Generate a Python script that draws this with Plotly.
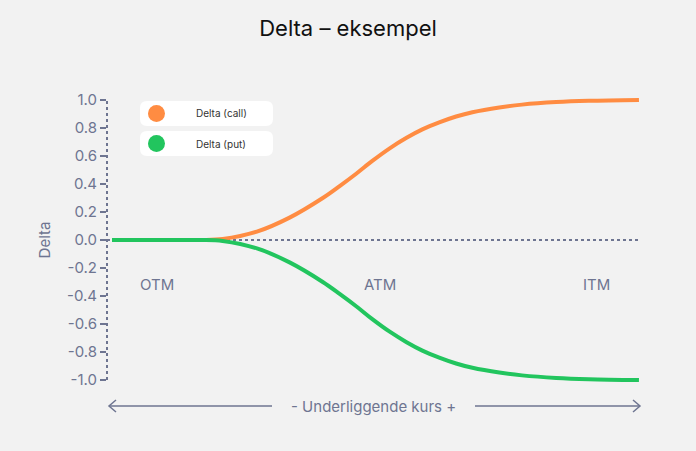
import plotly.graph_objects as go

# --- data ---
underlying = [0, 8.0, 16.7, 21.0, 27.5, 33.7, 40.0, 43.2, 46.4, 49.4, 52.7, 55.9, 58.9, 62.1,
              65.3, 68.4, 73.5, 77.8, 84.3, 90.5, 100]
delta_call = [0, 0, 0.0, 0.007, 0.06, 0.16, 0.30, 0.385, 0.475, 0.565, 0.655, 0.73, 0.79, 0.84,
              0.882, 0.913, 0.947, 0.967, 0.985, 0.994, 1.0]
delta_put = [-v for v in delta_call]
y_ticks = [1.0, 0.8, 0.6, 0.4, 0.2, 0.0, -0.2, -0.4, -0.6, -0.8, -1.0]
y_tick_text = ["1.0", "0.8", "0.6", "0.4", "0.2", "0.0", "-0.2", "-0.4", "-0.6", "-0.8", "-1.0"]
zones = ["OTM", "ATM", "ITM"]
zone_x = [8.5, 50.8, 91.9]
series_names = ["Delta (call)", "Delta (put)"]

ORANGE = "#ff8c42"
GREEN = "#22c55e"
SLATE = "#6e7591"
BG = "#f2f2f2"

W, H = 696, 451
L, R, T, B = 107, 56, 95, 66
PW, PH = W - L - R, H - T - B


def px(x):
    return (x - L) / PW


def py(y):
    return (H - B - y) / PH


fig = go.Figure()
fig.add_trace(go.Scatter(x=underlying, y=delta_call, mode="lines", name=series_names[0],
                         line=dict(color=ORANGE, width=4, shape="spline", smoothing=1.0)))
fig.add_trace(go.Scatter(x=underlying, y=delta_put, mode="lines", name=series_names[1],
                         line=dict(color=GREEN, width=4, shape="spline", smoothing=1.0)))

shapes = []
# dotted y axis
shapes.append(dict(type="line", xref="paper", yref="y", x0=0, x1=0, y0=-1.0, y1=1.0,
                   line=dict(color=SLATE, width=2, dash="3px,3px")))
# dashed zero line
shapes.append(dict(type="line", xref="paper", yref="y", x0=0, x1=px(640), y0=0, y1=0,
                   line=dict(color=SLATE, width=2, dash="3px,3px"), layer="below"))


def rounded_box(x0, y0, x1, y1, r):
    return (f"M {px(x0 + r)},{py(y0)} L {px(x1 - r)},{py(y0)} "
            f"Q {px(x1)},{py(y0)} {px(x1)},{py(y0 + r)} L {px(x1)},{py(y1 - r)} "
            f"Q {px(x1)},{py(y1)} {px(x1 - r)},{py(y1)} L {px(x0 + r)},{py(y1)} "
            f"Q {px(x0)},{py(y1)} {px(x0)},{py(y1 - r)} L {px(x0)},{py(y0 + r)} "
            f"Q {px(x0)},{py(y0)} {px(x0 + r)},{py(y0)} Z")


annotations = []
for i, (name, col) in enumerate(zip(series_names, [ORANGE, GREEN])):
    y0 = 101 + i * 30
    y1 = y0 + 25
    shapes.append(dict(type="path", xref="paper", yref="paper", path=rounded_box(140, y0, 273, y1, 7),
                       fillcolor="white", line=dict(width=0), layer="above"))
    cy = (y0 + y1) / 2
    shapes.append(dict(type="circle", xref="paper", yref="paper",
                       x0=px(148), x1=px(165), y0=py(cy + 8.5), y1=py(cy - 8.5),
                       fillcolor=col, line=dict(width=0), layer="above"))
    annotations.append(dict(text=name, xref="paper", yref="paper", x=px(221), y=py(cy),
                            showarrow=False, xanchor="center", yanchor="middle",
                            font=dict(size=10, color="#333333")))

# zone labels
for z, zx in zip(zones, zone_x):
    annotations.append(dict(text=z, x=zx, y=-0.32, xref="x", yref="y", showarrow=False,
                            font=dict(size=15, color=SLATE)))

# bottom arrow
ay = 406
shapes.append(dict(type="line", xref="paper", yref="paper", x0=px(109), x1=px(272), y0=py(ay), y1=py(ay),
                   line=dict(color=SLATE, width=1.5)))
shapes.append(dict(type="line", xref="paper", yref="paper", x0=px(475), x1=px(640), y0=py(ay), y1=py(ay),
                   line=dict(color=SLATE, width=1.5)))
shapes.append(dict(type="path", xref="paper", yref="paper",
                   path=f"M {px(116)},{py(ay - 6)} L {px(109)},{py(ay)} L {px(116)},{py(ay + 6)}",
                   line=dict(color=SLATE, width=1.5)))
shapes.append(dict(type="path", xref="paper", yref="paper",
                   path=f"M {px(633)},{py(ay - 6)} L {px(640)},{py(ay)} L {px(633)},{py(ay + 6)}",
                   line=dict(color=SLATE, width=1.5)))
annotations.append(dict(text="- Underliggende kurs +", xref="paper", yref="paper", x=px(373), y=py(ay),
                        showarrow=False, xanchor="center", yanchor="middle",
                        font=dict(size=15, color=SLATE)))

fig.update_layout(
    width=W, height=H,
    margin=dict(l=L, r=R, t=T, b=B),
    paper_bgcolor=BG, plot_bgcolor=BG,
    font=dict(family="Inter, Roboto, sans-serif", color=SLATE),
    title=dict(text="Delta – eksempel", x=0.5, xanchor="center", y=1 - 28 / H, yanchor="middle",
               font=dict(size=22, color="#111111")),
    showlegend=False,
    shapes=shapes,
    annotations=annotations,
)
fig.update_xaxes(range=[-0.95, 100.2], visible=False)
fig.update_yaxes(range=[-1.0357, 1.0357], tickvals=y_ticks, ticktext=y_tick_text,
                 showgrid=False, zeroline=False, showline=False,
                 ticks="outside", ticklen=6, tickwidth=1.5, tickcolor=SLATE,
                 tickfont=dict(size=15, color=SLATE),
                 title=dict(text="Delta", font=dict(size=15, color=SLATE), standoff=12))

fig.write_html("out.html", config={"displayModeBar": False},
               post_script="document.body.style.margin='0';document.body.style.background='#f2f2f2';")
